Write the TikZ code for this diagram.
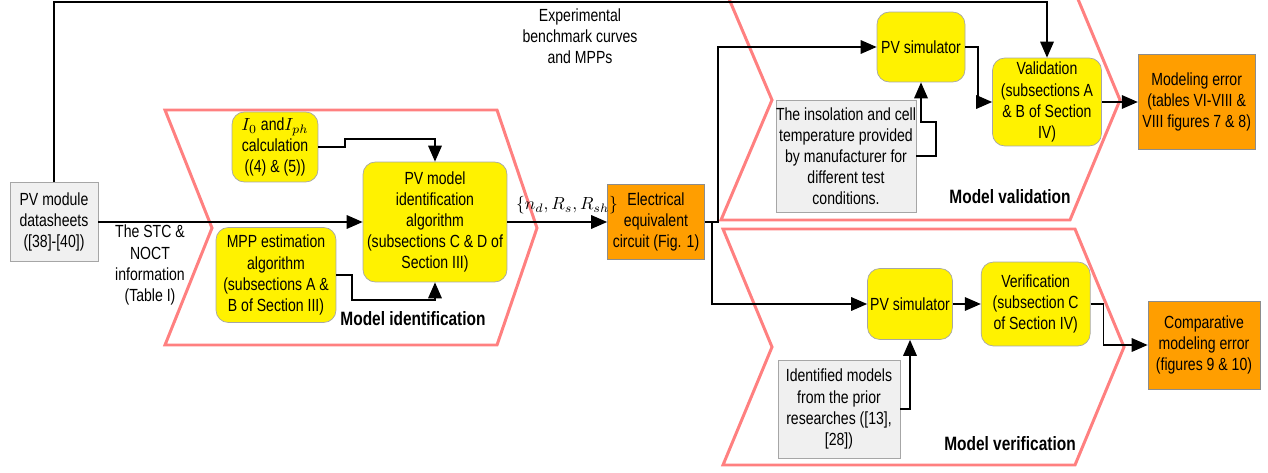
\documentclass[tikz,border=0pt]{standalone}
\usepackage{fontspec}
\setmainfont[FakeStretch=0.8]{Liberation Sans}
\usetikzlibrary{arrows.meta,positioning}
\definecolor{chevpink}{RGB}{255,128,128}
\definecolor{boxorange}{RGB}{255,158,0}
\definecolor{boxgray}{RGB}{240,240,240}

\begin{document}
\begin{tikzpicture}[x=0.02cm,y=-0.02cm,
  ybox/.style={rectangle, draw=black!35, fill=yellow, rounded corners=7pt, align=center, inner sep=0pt, font=\fontsize{10}{12}\selectfont},
  obox/.style={rectangle, draw=black!45, fill=boxorange, align=center, inner sep=0pt, font=\fontsize{10}{12}\selectfont},
  gbox/.style={rectangle, draw=black!35, fill=boxgray, align=center, inner sep=0pt, font=\fontsize{10}{12}\selectfont},
  chev/.style={draw=chevpink, line width=1.7pt, line join=miter},
  arr/.style={-{Triangle[length=0.32cm,width=0.27cm]}, line width=1pt},
  lbl/.style={align=center, inner sep=0pt, font=\fontsize{10}{12}\selectfont},
  phase/.style={inner sep=0pt, font=\fontsize{11}{13}\selectfont\bfseries}]
\useasboundingbox (0,0) rectangle (1268,473);

% the three stages
\draw[chev] (165,110) -- (497,110) -- (537,228) -- (497,345) -- (165,345) -- (212,228) -- cycle;
\begin{scope}
\clip (0,0) rectangle (1268,473);
\draw[chev] (721,-20) -- (1070,-20) -- (1120,100) -- (1070,220) -- (721,220) -- (772,100) -- cycle;
\end{scope}
\draw[chev] (723,229) -- (1075,229) -- (1124,347) -- (1075,465) -- (723,465) -- (772,347) -- cycle;

% model identification
\node[gbox, minimum width=1.76cm, minimum height=1.58cm] (sheets) at (54,222) {PV module\\datasheets\\([38]-[40])};
\node[ybox, minimum width=1.72cm, minimum height=1.4cm] (calc) at (275,147) {$I_0$ and$I_{ph}$\\calculation\\((4) \& (5))};
\node[ybox, minimum width=2.88cm, minimum height=2.4cm] (pvmodel) at (435,222) {PV model\\identification\\algorithm\\(subsections C \& D of\\Section III)};
\node[ybox, minimum width=2.4cm, minimum height=1.9cm] (mpp) at (276,275) {MPP estimation\\algorithm\\(subsections A \&\\B of Section III)};
\node[obox, minimum width=1.94cm, minimum height=1.5cm] (elec) at (656,222) {Electrical\\equivalent\\circuit (Fig. 1)};
\node[lbl] (stc) at (150,265) {The STC \&\\NOCT\\information\\(Table I)};
\node[lbl] (params) at (567,205) {$\{n_d,R_s,R_{sh}\}$};
\node[lbl] (bench) at (580,36) {Experimental\\benchmark curves\\and MPPs};
\node[phase] (identlbl) at (413,319) {Model identification};

% model validation
\node[ybox, minimum width=1.76cm, minimum height=1.4cm] (sim1) at (921,47) {PV simulator};
\node[gbox, minimum width=2.8cm, minimum height=2.24cm] (insol) at (846,156) {The insolation and cell\\temperature provided\\by manufacturer for\\different test\\conditions.};
\node[ybox, minimum width=2.18cm, minimum height=1.76cm] (valid) at (1047,102) {Validation\\(subsections A\\\& B of Section\\IV)};
\node[obox, minimum width=2.34cm, minimum height=1.9cm, right=0.72cm of valid] (moderr) {Modeling error\\(tables VI-VIII \&\\VIII figures 7 \& 8)};
\node[phase] (validlbl) at (1010,197) {Model validation};

% model verification
\node[ybox, minimum width=1.7cm, minimum height=1.42cm] (sim2) at (910,304) {PV simulator};
\node[ybox, minimum width=2.18cm, minimum height=1.68cm, right=0.56cm of sim2] (verif) {Verification\\(subsection C\\of Section IV)};
\node[gbox, minimum width=2.44cm, minimum height=1.96cm] (prior) at (839,409) {Identified models\\from the prior\\researches ([13],\\{}[28])};
\node[obox, minimum width=2.24cm, minimum height=1.76cm] (comp) at (1204,345) {Comparative\\modeling error\\(figures 9 \& 10)};
\node[phase] (veriflbl) at (1010,444) {Model verification};

% connectors
\draw[arr] (sheets) -- (pvmodel);
\draw[arr] (calc.east) -- ++(27,0) |- ([yshift=0.46cm]pvmodel.north) -- (pvmodel.north);
\draw[arr] (mpp.east) -- ++(16,0) |- ([yshift=-0.36cm]pvmodel.south) -- (pvmodel.south);
\draw[arr] (pvmodel) -- (elec);
\draw[arr] (sheets.north) |- ([yshift=1.12cm]valid.north) -- (valid.north);
\draw[arr] (elec.east) -- ++(13,0) |- (sim1.west);
\draw[arr] (elec.east) -- ++(7,0) |- (sim2.west);
\draw[arr] (insol.east) -- ++(20,0) |- ([yshift=-0.8cm]sim1.south) -- (sim1.south);
\draw[arr] (sim1.east) -- ++(13,0) |- (valid.west);
\draw[arr] (valid) -- (moderr);
\draw[arr] (sim2) -- (verif);
\draw[arr] (verif.east) -- ++(13,0) |- (comp.west);
\draw[arr] (prior.east) -| (sim2.south);
\end{tikzpicture}
\end{document}
